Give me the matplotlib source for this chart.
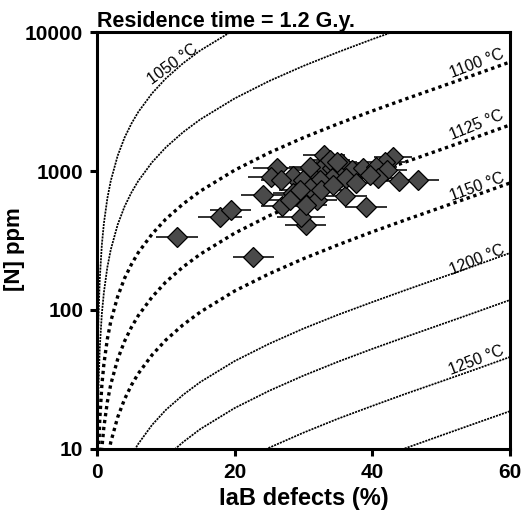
import numpy as np
import matplotlib
matplotlib.use("Agg")
import matplotlib.pyplot as plt
from matplotlib.ticker import FixedLocator, NullLocator

plt.rcParams['font.family'] = ['Liberation Sans', 'DejaVu Sans']

nan = np.nan

# IaB defects (%) grid shared by all isotherms
iab_grid = [0.02, 0.05, 0.1, 0.2, 0.4, 0.7, 1, 1.5, 2, 3, 4, 5, 6, 8, 10,
            12.5, 15, 20, 25, 30, 35, 40, 45, 50, 55, 60]

# isotherm [N] ppm values on that grid
n_1050 = [8.3, 20.8, 41.7, 83.6, 167, 294, 421, 635, 851, 1288, 1738, 2193,
          2661, 3622, 4634, 5957, 7362, 10420, 13900, nan, nan, nan, nan, nan, nan, nan]
n_1075 = [2.66, 6.65, 13.3, 26.7, 53.5, 93.8, 134, 203, 272, 411, 555, 700,
          849, 1156, 1479, 1901, 2350, 3327, 4436, 5702, 7161, 8872, 10890, nan, nan, nan]
n_1100 = [0.81, 2.03, 4.06, 8.13, 16.3, 28.6, 40.9, 61.8, 82.8, 125, 169, 213,
          259, 352, 451, 579, 716, 1014, 1352, 1738, 2183, 2704, 3319, 4055, 4955, 6081]
n_1125 = [nan, 0.71, 1.43, 2.86, 5.74, 10.07, 14.4, 21.8, 29.2, 44.2, 59.6, 75.2,
          91.2, 124, 159, 204, 252, 357, 476, 612, 769, 953, 1169, 1429, 1746, 2143]
n_1150 = [nan, nan, nan, nan, 2.2, 3.85, 5.52, 8.34, 11.2, 16.9, 22.8, 28.8,
          34.9, 47.5, 60.8, 78.2, 96.6, 137, 182, 234, 294, 365, 448, 547, 668, 820]
n_1200 = [nan, nan, nan, nan, nan, nan, nan, 2.6, 3.5, 5.3, 7.14, 9.02,
          10.9, 14.9, 19.1, 24.5, 30.3, 42.9, 57.1, 73.5, 92.3, 114, 140, 171, 209, 257]
n_1225 = [nan, nan, nan, nan, nan, nan, nan, nan, nan, nan, nan, 4.14,
          5.02, 6.84, 8.75, 11.2, 13.9, 19.7, 26.2, 33.7, 42.4, 52.5, 64.4, 78.7, 96.2, 118]
n_1250 = [nan, nan, nan, nan, nan, nan, nan, nan, nan, nan, nan, nan,
          nan, nan, nan, nan, 5.41, 7.66, 10.2, 13.1, 16.5, 20.4, 25.1, 30.6, 37.4, 45.9]
n_1275 = [nan, nan, nan, nan, nan, nan, nan, nan, nan, nan, nan, nan,
          nan, nan, nan, nan, nan, nan, nan, nan, nan, 8.34, 10.2, 12.5, 15.3, 18.7]

# labels on some isotherms: text, x (%), N (ppm), rotation
iso_labels = ['1050 \u00b0C', '1100 \u00b0C', '1125 \u00b0C', '1150 \u00b0C', '1200 \u00b0C', '1250 \u00b0C']
label_x = [11.0, 55.2, 55.2, 55.2, 55.2, 55.2]
label_n = [5900, 5900, 2143, 767, 229, 43.6]
label_rot = [36, 21, 22, 20, 22, 21]

# diamonds: IaB %, [N] ppm, IaB error
diam_x = [11.6, 22.7, 17.9, 19.4, 24.1, 30.3, 29.7, 39.1, 36.1, 46.7, 43.9, 43.0,
          41.8, 33.0, 26.1, 25.3, 26.9, 28.5, 29.9, 31.4, 32.8, 34.2, 35.5, 37.0,
          38.7, 40.6, 42.1, 35.5, 34.1, 32.4, 30.9, 28.5, 31.9, 30.4, 36.2, 37.7,
          40.8, 33.8, 34.8, 39.6, 30.9, 26.8, 29.5, 32.6, 34.3, 28.0]
diam_n = [334, 239, 464, 524, 676, 409, 464, 553, 661, 861, 848, 1268,
          1167, 1303, 1045, 901, 562, 920, 861, 1016, 1074, 1045, 1135, 1016,
          1045, 1074, 1016, 910, 885, 861, 750, 692, 618, 569, 885, 815,
          885, 1199, 1167, 935, 1074, 861, 729, 729, 793, 618]
diam_err = [3.1, 3.0, 3.2, 3.0, 3.2, 3.0, 3.5, 3.0, 3.2, 3.0, 3.0, 2.8,
            3.0, 3.0, 3.5, 3.3, 3.0, 3.0, 3.0, 3.0, 3.0, 3.0, 3.0, 3.0,
            3.0, 3.0, 3.0, 3.0, 3.0, 3.0, 3.0, 3.0, 3.0, 3.0, 3.0, 3.0,
            3.0, 3.0, 3.0, 3.0, 3.0, 3.0, 3.0, 3.0, 3.0, 3.0]

fig = plt.figure(figsize=(5.23, 5.13), dpi=100)
ax = fig.add_axes([0.1855, 0.1248, 0.7895, 0.8128])

fine = dict(color='black', linewidth=1.25, linestyle=(0, (1.2, 0.6)))
bold = dict(color='black', linewidth=2.4, linestyle=(0, (1.0, 1.1)))

ax.plot(iab_grid, n_1050, **fine)
ax.plot(iab_grid, n_1075, **fine)
ax.plot(iab_grid, n_1100, **bold)
ax.plot(iab_grid, n_1125, **bold)
ax.plot(iab_grid, n_1150, **bold)
ax.plot(iab_grid, n_1200, **fine)
ax.plot(iab_grid, n_1225, **fine)
ax.plot(iab_grid, n_1250, **fine)
ax.plot(iab_grid, n_1275, **fine)

for txt, lx, ln, rot in zip(iso_labels, label_x, label_n, label_rot):
    ax.text(lx, ln, txt, fontsize=11.5, rotation=rot, rotation_mode='anchor',
            ha='center', va='center')

ax.errorbar(diam_x, diam_n, xerr=diam_err, fmt='D', ms=10,
            mfc='#4a4a4a', mec='black', mew=0.9,
            ecolor='#222222', elinewidth=1.3, capsize=0)

ax.set_yscale('log')
ax.set_xlim(0, 60)
ax.set_ylim(10, 10000)
ax.xaxis.set_major_locator(FixedLocator([0, 20, 40, 60]))
ax.yaxis.set_major_locator(FixedLocator([10, 100, 1000, 10000]))
ax.yaxis.set_minor_locator(NullLocator())
ax.set_yticklabels(['10', '100', '1000', '10000'])
ax.set_xticklabels(['0', '20', '40', '60'])

for s in ax.spines.values():
    s.set_linewidth(2.2)
ax.tick_params(direction='out', length=5, width=2.2, labelsize=15, pad=5)
for lab in ax.get_xticklabels() + ax.get_yticklabels():
    lab.set_fontweight('bold')

ax.set_xlabel('IaB defects (%)', fontsize=17, fontweight='bold', labelpad=4)
ax.set_ylabel('[N] ppm', fontsize=16, fontweight='bold')
ax.yaxis.set_label_coords(-0.175, 0.48)
ax.set_title('Residence time = 1.2 G.y.', loc='left', fontsize=15.5,
             fontweight='bold', pad=3)

fig.savefig('out.png', dpi=100)
